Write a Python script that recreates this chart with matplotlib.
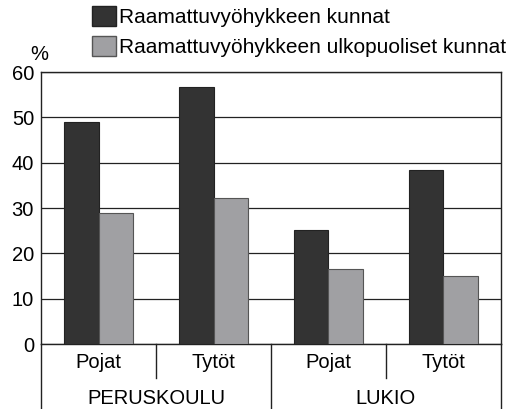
import numpy as np
import matplotlib
matplotlib.use("Agg")
import matplotlib.pyplot as plt
import matplotlib.transforms as mtransforms
from matplotlib.patches import Patch

plt.rcParams['font.family'] = ['Liberation Sans', 'DejaVu Sans']

# data
categories = ["Pojat", "Tytöt", "Pojat", "Tytöt"]
groups = ["PERUSKOULU", "LUKIO"]
series_names = ["Raamattuvyöhykkeen kunnat", "Raamattuvyöhykkeen ulkopuoliset kunnat"]
inside = [49.0, 56.7, 25.2, 38.4]
outside = [28.9, 32.1, 16.6, 14.9]
yticks = [0, 10, 20, 30, 40, 50, 60]

dark = "#333333"
light = "#a0a0a3"
fs = 14.5

fig = plt.figure(figsize=(5.12, 4.09), dpi=100)
ax = fig.add_axes([0.0801, 0.1589, 0.8984, 0.665])

x = np.arange(len(categories))
w = 0.296
ax.bar(x - w / 2, inside, w, color=dark, edgecolor="#222222", linewidth=0.8, zorder=3)
ax.bar(x + w / 2, outside, w, color=light, edgecolor="#555555", linewidth=0.8, zorder=3)

ax.set_xlim(-0.5, len(categories) - 0.5)
ax.set_ylim(0, 60)
ax.set_yticks(yticks)
ax.tick_params(axis="y", length=0, pad=5, labelsize=fs)
ax.set_xticks([])
ax.grid(axis="y", color="#222222", linewidth=0.9, zorder=0)
for s in ax.spines.values():
    s.set_color("#222222")
    s.set_linewidth(1.0)

# category / group rows below the axis
trans = mtransforms.blended_transform_factory(ax.transData, ax.transAxes)
for b in [0.5, 2.5]:
    ax.plot([b, b], [0, -0.125], transform=trans, color="#222222", lw=1.0, clip_on=False)
for b in [-0.5, 1.5, 3.5]:
    ax.plot([b, b], [0, -0.24], transform=trans, color="#222222", lw=1.0, clip_on=False)
for i, c in enumerate(categories):
    ax.text(i, -0.068, c, transform=trans, ha="center", va="center", fontsize=fs)
for j, g in enumerate(groups):
    ax.text(2 * j + 0.5, -0.2, g, transform=trans, ha="center", va="center", fontsize=fs)

ax.text(-0.004, 1.066, "%", transform=ax.transAxes, ha="center", va="center", fontsize=fs)

handles = [Patch(facecolor=dark, edgecolor="#222222"),
           Patch(facecolor=light, edgecolor="#555555")]
fig.legend(handles, series_names, loc="upper left", bbox_to_anchor=(0.18, 0.985),
           frameon=False, fontsize=15, handlelength=1.15, handleheight=1.1,
           handletextpad=0.15, labelspacing=0.4, borderaxespad=0, borderpad=0)

fig.savefig("out.png", dpi=100)
